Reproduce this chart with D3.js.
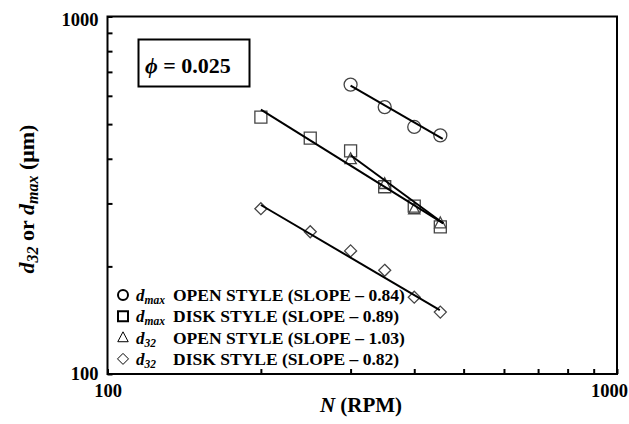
<!DOCTYPE html>
<html>
<head>
<meta charset="utf-8">
<script src="https://cdn.jsdelivr.net/npm/d3@7"></script>
<style>
  body { margin: 0; background: #fff; }
  text { font-family: "Liberation Serif", "Times New Roman", serif; font-weight: bold; }
</style>
</head>
<body>
<svg id="chart" width="629" height="424"></svg>
<script>
// rotational speed (RPM)
var speeds = [200, 250, 300, 350, 400, 450]
var dmaxOpen = [645, 558, 491, 465]          // at 300..450
var dmaxDisk = [523, 457, 421, 334, 295, 258]
var d32Open = [399, 340, 289, 264]           // at 300..450
var d32Disk = [290, 250, 221, 195, 164, 149]

// power-law fit lines, [N, d] end points
var fitDmaxOpen = [[300, 641], [455, 455]]
var fitDmaxDisk = [[200, 549], [456, 264]]
var fitD32Open = [[300, 409], [456, 264]]
var fitD32Disk = [[200, 297], [449, 151]]

var minorTicks = [100, 200, 300, 400, 500, 600, 700, 800, 900, 1000]
var legendRows = [
  {shape: "circle", d: "max", text: "OPEN STYLE (SLOPE \u2013 0.84)"},
  {shape: "square", d: "max", text: "DISK STYLE (SLOPE \u2013 0.89)"},
  {shape: "triangle", d: "32", text: "OPEN STYLE (SLOPE \u2013 1.03)"},
  {shape: "diamond", d: "32", text: "DISK STYLE (SLOPE \u2013 0.82)"}
]

var svg = d3.select("svg#chart")
var margin = {left: 107.5, right: 12, top: 16.5, bottom: 50}
var width = 629, height = 424

var x = d3.scaleLog()
    .domain([100, 1000])
    .range([margin.left, width - margin.right])
var y = d3.scaleLog()
    .domain([100, 1000])
    .range([height - margin.bottom, margin.top])

var tickFmt = d => (d === 100 || d === 1000) ? d : ""

var xAxis = svg.append("g")
    .attr("transform", `translate(0,${y(100)})`)
    .call(d3.axisBottom(x).tickValues(minorTicks).tickSizeInner(-5).tickSizeOuter(0).tickPadding(10).tickFormat(tickFmt))
xAxis.select(".domain").remove()
xAxis.selectAll("line").attr("stroke-width", 2)
xAxis.selectAll("text").attr("font-size", 18.5).attr("font-family", null).attr("fill", "#000")
xAxis.selectAll(".tick").filter(d => d === 1000).select("text").attr("dx", -8)

var yAxis = svg.append("g")
    .attr("transform", `translate(${x(100)},0)`)
    .call(d3.axisLeft(y).tickValues(minorTicks).tickSizeInner(-5).tickSizeOuter(0).tickPadding(9).tickFormat(tickFmt))
yAxis.select(".domain").remove()
yAxis.selectAll("line").attr("stroke-width", 2)
yAxis.selectAll("text").attr("font-size", 18.5).attr("font-family", null).attr("fill", "#000")
yAxis.selectAll(".tick").filter(d => d === 1000).select("text").attr("dy", "0.5em")

// frame
svg.append("rect")
    .attr("x", x(100)).attr("y", y(1000))
    .attr("width", x(1000) - x(100)).attr("height", y(100) - y(1000))
    .attr("fill", "none").attr("stroke", "#000").attr("stroke-width", 2)

// marker paths
function markerPath(shape, s) {
  if (shape === "circle") return d3.arc()({innerRadius: 0, outerRadius: s, startAngle: 0, endAngle: 2 * Math.PI})
  if (shape === "square") return `M${-s},${-s}H${s}V${s}H${-s}Z`
  if (shape === "triangle") return `M0,${-s * 1.05}L${s * 0.95},${s * 0.75}L${-s * 0.95},${s * 0.75}Z`
  if (shape === "diamond") return `M0,${-s}L${s},0L0,${s}L${-s},0Z`
}

var series = [
  {shape: "circle", size: 6.5, n: speeds.slice(2), v: dmaxOpen},
  {shape: "square", size: 6, n: speeds, v: dmaxDisk},
  {shape: "triangle", size: 6, n: speeds.slice(2), v: d32Open},
  {shape: "diamond", size: 6, n: speeds, v: d32Disk}
]

series.forEach(s => {
  svg.append("g")
    .selectAll("path")
    .data(s.v)
    .enter()
    .append("path")
      .attr("d", markerPath(s.shape, s.size))
      .attr("transform", (d, i) => `translate(${x(s.n[i])},${y(d)})`)
      .attr("fill", "none")
      .attr("stroke", "#444")
      .attr("stroke-width", 1.3)
})

var line = d3.line()
    .x(d => x(d[0]))
    .y(d => y(d[1]))

svg.append("g")
    .attr("fill", "none")
    .attr("stroke", "#000")
    .attr("stroke-width", 2)
  .selectAll("path")
  .data([fitDmaxOpen, fitDmaxDisk, fitD32Open, fitD32Disk])
  .enter()
  .append("path")
    .attr("d", line)

// phi box
svg.append("rect")
    .attr("x", 138.5).attr("y", 39.5).attr("width", 111).attr("height", 47)
    .attr("fill", "none").attr("stroke", "#000").attr("stroke-width", 2)
var phi = svg.append("text")
    .attr("x", 145).attr("y", 72.5)
    .attr("font-size", 22)
phi.append("tspan").attr("font-style", "italic").text("\u03d5")
phi.append("tspan").text(" = 0.025")

// legend
var legend = svg.append("g")
var rows = legend.selectAll("g")
    .data(legendRows)
    .enter()
    .append("g")
    .attr("transform", (d, i) => `translate(0,${295 + i * 21.3})`)

rows.append("path")
    .attr("transform", "translate(123,0)")
    .attr("d", d => markerPath(d.shape, d.shape === "circle" ? 5 : d.shape === "square" ? 5 : 5.5))
    .attr("fill", "none")
    .attr("stroke", "#000")
    .attr("stroke-width", d => (d.shape === "circle" || d.shape === "square") ? 2 : 1)

var lab = rows.append("text")
    .attr("x", 136).attr("y", 6)
    .attr("font-size", 17)
lab.append("tspan").attr("font-style", "italic").text("d")
lab.append("tspan").attr("font-style", "italic").attr("font-size", 11.5).attr("dy", 3).text(d => d.d)

rows.append("text")
    .attr("x", 173).attr("y", 6)
    .attr("font-size", 17.5)
    .text(d => d.text)

// axis titles
var xt = svg.append("text")
    .attr("x", 361).attr("y", 412)
    .attr("text-anchor", "middle")
    .attr("font-size", 21)
xt.append("tspan").attr("font-style", "italic").text("N")
xt.append("tspan").text(" (RPM)")

var yt = svg.append("text")
    .attr("transform", "translate(34,199) rotate(-90)")
    .attr("text-anchor", "middle")
    .attr("font-size", 22)
yt.append("tspan").attr("font-style", "italic").text("d")
yt.append("tspan").attr("font-style", "italic").attr("font-size", 16).attr("dy", 4).text("32")
yt.append("tspan").attr("dy", -4).text(" or ")
yt.append("tspan").attr("font-style", "italic").text("d")
yt.append("tspan").attr("font-style", "italic").attr("font-size", 16).attr("dy", 4).text("max")
yt.append("tspan").attr("dy", -4).text(" (\u03bcm)")
</script>
</body>
</html>
